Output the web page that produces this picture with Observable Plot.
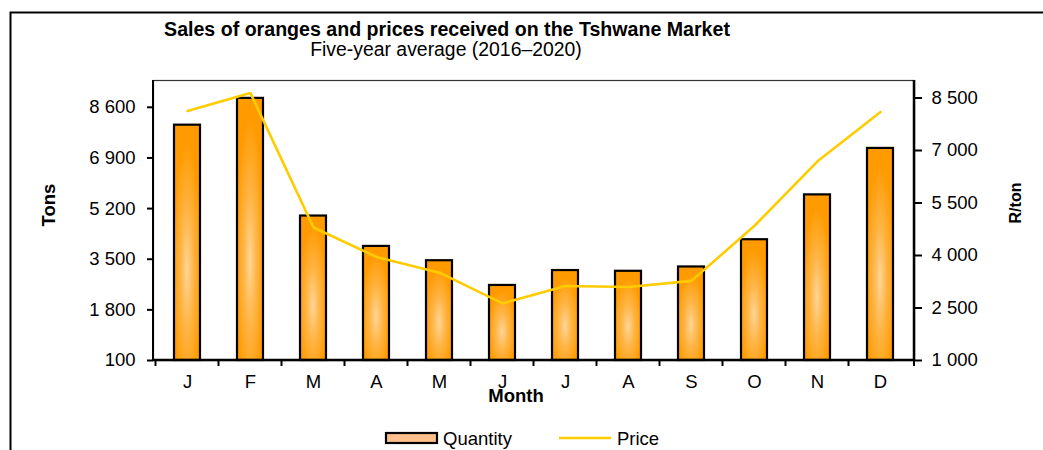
<!DOCTYPE html>
<html><head><meta charset="utf-8">
<script src="https://cdn.jsdelivr.net/npm/d3@7"></script>
<script src="https://cdn.jsdelivr.net/npm/@observablehq/plot@0.6"></script>
<style>
body{margin:0;background:#fff;}
#chart{position:relative;width:1043px;height:450px;overflow:hidden;}
</style></head><body><div id="chart"></div>
<script>
const monthLabels = ["J","F","M","A","M","J","J","A","S","O","N","D"];
const quantity = [8000, 8900, 4950, 3930, 3450, 2620, 3120, 3095, 3240, 4155, 5660, 7220];
const price = [8130, 8640, 4800, 3960, 3510, 2630, 3130, 3100, 3275, 4850, 6690, 8100];
const tonsTicks = [100, 1800, 3500, 5200, 6900, 8600];
const priceTicks = [1000, 2500, 4000, 5500, 7000, 8500];
const tonsDomain = [100, 9500];
const priceDomain = [1000, 9000];

const FONT = "'Liberation Sans', Arial, sans-serif";
const locale = d3.formatLocale({decimal: ".", thousands: "\u00a0", grouping: [3], currency: ["", ""]});
const fmt = locale.format(",");
const k = (tonsDomain[1] - tonsDomain[0]) / (priceDomain[1] - priceDomain[0]);
const toTons = p => tonsDomain[0] + (p - priceDomain[0]) * k;
const toPrice = t => priceDomain[0] + (t - tonsDomain[0]) / k;

const data = monthLabels.map((m, i) => ({i, m, q: quantity[i], p: price[i]}));

const plot = Plot.plot({
  width: 1043, height: 450,
  marginLeft: 153, marginRight: 129, marginTop: 80, marginBottom: 90,
  style: {fontFamily: FONT, fontSize: "18.5px", background: "white", color: "black"},
  x: {type: "band", domain: d3.range(12), paddingInner: 0.59, paddingOuter: 0.295},
  y: {domain: tonsDomain},
  marks: [
    Plot.barY(data, {x: "i", y1: tonsDomain[0], y2: "q", fill: "url(#barGrad)", stroke: "black", strokeWidth: 2.2}),
    Plot.line(data, {x: "i", y: d => toTons(d.p), stroke: "#FFCC00", strokeWidth: 2.6}),
    Plot.frame({stroke: "#333", strokeWidth: 1.2}),
    Plot.axisY({anchor: "left", ticks: tonsTicks, tickFormat: fmt, tickSize: 6, tickPadding: 12, label: null, strokeWidth: 2}),
    Plot.axisY({anchor: "right", ticks: priceTicks.map(toTons), tickFormat: v => fmt(Math.round(toPrice(v))), tickSize: 7, tickPadding: 10, label: null, strokeWidth: 2}),
    Plot.axisX({tickSize: 0, tickFormat: i => monthLabels[i], tickPadding: 14, label: null})
  ]
});

const svg = d3.select(plot);
const W = 1043;
// gradient defs
const defs = svg.insert("defs", ":first-child");
const g = defs.append("radialGradient").attr("id", "barGrad")
  .attr("cx", "50%").attr("cy", "62%").attr("r", "55%").attr("fx", "50%").attr("fy", "62%");
g.append("stop").attr("offset", "0%").attr("stop-color", "#FFD596");
g.append("stop").attr("offset", "45%").attr("stop-color", "#FFB546");
g.append("stop").attr("offset", "100%").attr("stop-color", "#FF9A00");

const xs = plot.scale("x");
const ys = plot.scale("y");
const yBase = ys.apply(tonsDomain[0]);
const yTop = ys.apply(tonsDomain[1]);
const xLeft = xs.range[0], xRight = xs.range[1];
const step = xs.step, bw = xs.bandwidth;

// axis lines (bottom, left, right)
const ax = svg.append("g").attr("stroke", "black");
ax.append("line").attr("x1", xLeft).attr("x2", xRight).attr("y1", yBase).attr("y2", yBase).attr("stroke-width", 2.5);
ax.append("line").attr("x1", xLeft).attr("x2", xLeft).attr("y1", yTop).attr("y2", yBase).attr("stroke-width", 2);
ax.append("line").attr("x1", xRight).attr("x2", xRight).attr("y1", yTop).attr("y2", yBase).attr("stroke-width", 2.5);
// x ticks at band boundaries
for (let i = 0; i <= 12; i++) {
  const x = i < 12 ? xs.apply(i) - (step - bw) / 2 : xRight;
  ax.append("line").attr("x1", x).attr("x2", x).attr("y1", yBase).attr("y2", yBase + 6).attr("stroke-width", 2);
}

// outer frame
svg.append("path").attr("d", `M10.5,${W} V12.5 H${W + 5}`).attr("fill", "none").attr("stroke", "black").attr("stroke-width", 2);

const txt = (x, y, s, opts = {}) => {
  const t = svg.append("text").attr("x", x).attr("y", y).text(s)
    .attr("font-family", FONT).attr("font-size", opts.size || 18.5)
    .attr("font-weight", opts.bold ? "bold" : "normal")
    .attr("text-anchor", opts.anchor || "middle").attr("fill", "black");
  if (opts.rotate) t.attr("transform", `rotate(${opts.rotate},${x},${y})`);
  return t;
};
txt(447, 35.5, "Sales of oranges and prices received on the Tshwane Market", {bold: true, size: 19.6});
txt(446, 55.5, "Five-year average (2016\u20132020)", {size: 19.4});
txt(55, 205, "Tons", {bold: true, rotate: -90, size: 18.5});
txt(1021, 203, "R/ton", {bold: true, rotate: -90, size: 16});
txt(516, 401.5, "Month", {bold: true, size: 18.5});

// legend
svg.append("rect").attr("x", 386).attr("y", 433).attr("width", 51).attr("height", 10)
  .attr("fill", "#FFC08C").attr("stroke", "black").attr("stroke-width", 2.2);
txt(443, 445, "Quantity", {anchor: "start", size: 18.5});
svg.append("line").attr("x1", 559).attr("x2", 611).attr("y1", 438).attr("y2", 438)
  .attr("stroke", "#FFCC00").attr("stroke-width", 2.6);
txt(617, 445, "Price", {anchor: "start", size: 18.5});

document.getElementById("chart").appendChild(plot);
</script></body></html>
